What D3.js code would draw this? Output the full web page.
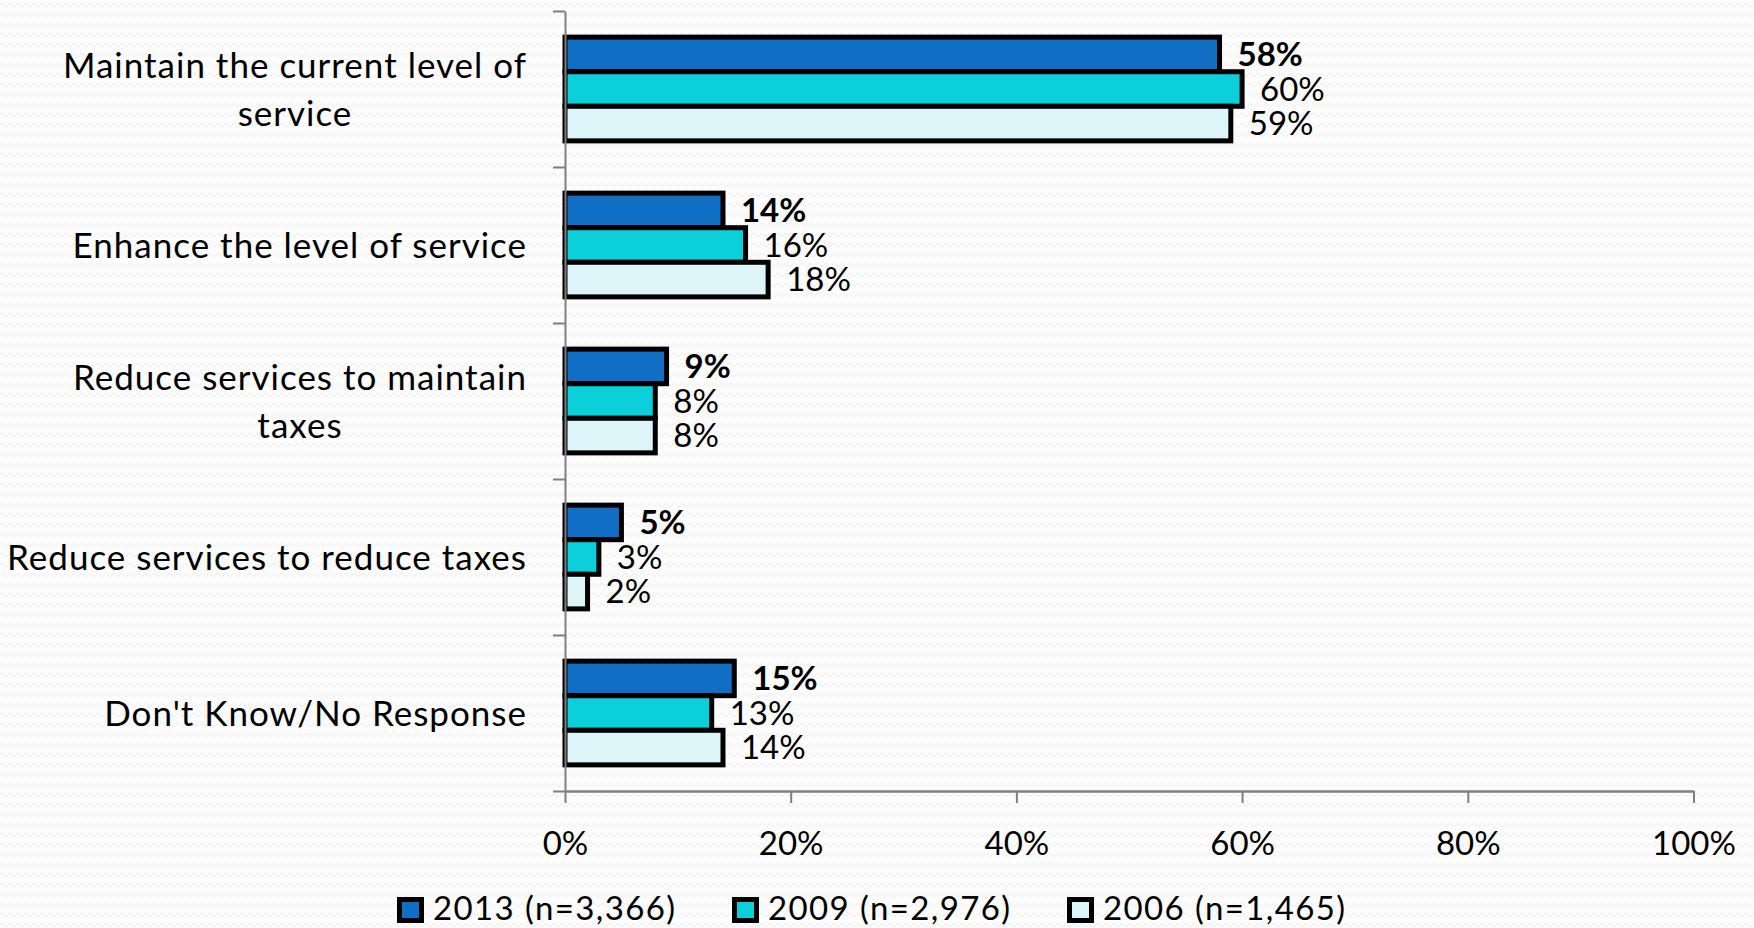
<!DOCTYPE html>
<html>
<head>
<meta charset="utf-8">
<script src="https://cdn.jsdelivr.net/npm/d3@7"></script>
<style>
  html, body { margin: 0; padding: 0; background: #fcfcfc; }
  svg { display: block; font-family: Lato, "Noto Sans", sans-serif; }
</style>
</head>
<body>
<svg id="chart" width="1754" height="928"></svg>
<script>
// Survey answers, one row per option
const categories = [
  ["Maintain the current level of", "service"],
  ["Enhance the level of service"],
  ["Reduce services to maintain", "taxes"],
  ["Reduce services to reduce taxes"],
  ["Don't Know/No Response"]
];
const seriesNames = ["2013 (n=3,366)", "2009 (n=2,976)", "2006 (n=1,465)"];
const values2013 = [0.58, 0.14, 0.09, 0.05, 0.15];
const values2009 = [0.60, 0.16, 0.08, 0.03, 0.13];
const values2006 = [0.59, 0.18, 0.08, 0.02, 0.14];
const xTicks = [0, 0.2, 0.4, 0.6, 0.8, 1.0];
const colors = ["#106ec4", "#0bd0d9", "#ddf5f8"];

const seriesValues = [values2013, values2009, values2006];

const svg = d3.select("#chart");
const W = 1754, H = 928;

// faint wavy background texture
const defs = svg.append("defs");
const pat = defs.append("pattern")
  .attr("id", "waves").attr("patternUnits", "userSpaceOnUse")
  .attr("width", 8).attr("height", 10);
pat.append("rect").attr("width", 8).attr("height", 10).attr("fill", "#fcfcfc");
pat.append("path")
  .attr("d", "M0,5 Q2,2 4,5 T8,5")
  .attr("fill", "none").attr("stroke", "#efefef").attr("stroke-width", 1.2);
svg.append("rect").attr("width", W).attr("height", H).attr("fill", "url(#waves)");

const plot = { left: 565, right: 1693.5, top: 11, bottom: 791 };

const x = d3.scaleLinear().domain([0, 1]).range([plot.left, plot.right]);
const y = d3.scaleBand()
  .domain(d3.range(categories.length))
  .range([plot.top, plot.bottom])
  .paddingInner(0.335).paddingOuter(0.1675);
const ySeries = d3.scaleBand()
  .domain(d3.range(seriesNames.length))
  .range([0, y.bandwidth()]);
// boundaries between categories, for the left axis ticks
const yEdge = d3.scaleLinear().domain([0, categories.length]).range([plot.top, plot.bottom]);

const axisColor = "#7f7f7f";

// bars
const groups = svg.append("g").selectAll("g")
  .data(categories.map((c, i) => i))
  .join("g")
  .attr("transform", i => `translate(0,${y(i)})`);

groups.selectAll("rect")
  .data(i => seriesValues.map((vals, s) => ({ s, v: vals[i] })))
  .join("rect")
  .attr("x", x(0))
  .attr("y", d => ySeries(d.s))
  .attr("width", d => x(d.v) - x(0))
  .attr("height", ySeries.bandwidth())
  .attr("fill", d => colors[d.s])
  .attr("stroke", "#000")
  .attr("stroke-width", 5);

// value labels
groups.selectAll("text")
  .data(i => seriesValues.map((vals, s) => ({ s, v: vals[i] })))
  .join("text")
  .attr("x", d => x(d.v) + 18)
  .attr("y", d => ySeries(d.s) + ySeries.bandwidth() / 2)
  .attr("dy", "0.36em")
  .attr("font-size", 33)
  .attr("font-weight", d => d.s === 0 ? 700 : 400)
  .attr("fill", "#000")
  .text(d => d3.format(".0%")(d.v));

// left axis
const yAxis = svg.append("g")
  .attr("transform", `translate(${plot.left},0)`)
  .call(d3.axisLeft(yEdge).tickValues(d3.range(categories.length + 1)).tickFormat("").tickSize(12).tickSizeOuter(0));
yAxis.selectAll("path, line").attr("stroke", axisColor).attr("stroke-width", 2);

// bottom axis
const xAxis = svg.append("g")
  .attr("transform", `translate(0,${plot.bottom})`)
  .call(d3.axisBottom(x).tickValues(xTicks).tickFormat(d3.format(".0%")).tickSize(12).tickSizeOuter(0).tickPadding(29));
xAxis.select(".domain").attr("stroke", axisColor).attr("stroke-width", 2.5);
xAxis.selectAll("line").attr("stroke", axisColor).attr("stroke-width", 2);
xAxis.selectAll("text").attr("font-size", 33).attr("fill", "#000").attr("font-family", "Lato, 'Noto Sans', sans-serif");

// category labels, lines centred within a right-aligned block
const labelRight = plot.left - 38;
const lineH = 48;
const catFont = 35;
categories.forEach((lines, i) => {
  const cy = y(i) + y.bandwidth() / 2;
  const g = svg.append("g");
  const texts = lines.map((line, k) => g.append("text")
    .attr("font-size", catFont)
    .attr("letter-spacing", 1.0)
    .attr("fill", "#000")
    .attr("text-anchor", "middle")
    .attr("y", cy + (k - (lines.length - 1) / 2) * lineH)
    .attr("dy", "0.36em")
    .text(line));
  const maxW = d3.max(texts, t => t.node().getComputedTextLength());
  texts.forEach(t => t.attr("x", labelRight - maxW / 2));
});

// legend
const legend = svg.append("g").attr("transform", "translate(397,897)");
const item = legend.selectAll("g")
  .data(seriesNames)
  .join("g")
  .attr("transform", (d, i) => `translate(${i * 335},0)`);
item.append("rect")
  .attr("x", 2.5).attr("y", 2.5)
  .attr("width", 22).attr("height", 21)
  .attr("fill", (d, i) => colors[i])
  .attr("stroke", "#000").attr("stroke-width", 5);
item.append("text")
  .attr("x", 36).attr("y", 23)
  .attr("font-size", 33)
  .attr("letter-spacing", 1.4)
  .attr("fill", "#000")
  .text(d => d);
</script>
</body>
</html>
